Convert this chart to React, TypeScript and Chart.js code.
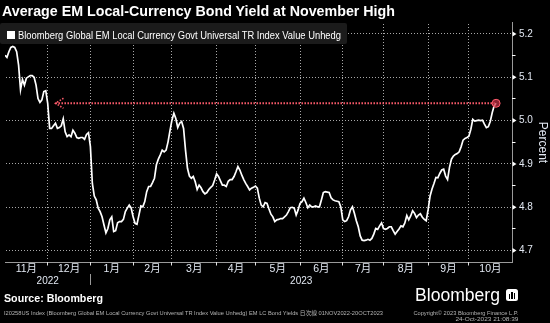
import React, { useEffect, useLayoutEffect, useRef } from "react";
import { Chart, registerables } from "chart.js";

Chart.register(...registerables);

// ---------- DATA ----------
const titleText = "Average EM Local-Currency Bond Yield at November High";
const seriesLabel = "Bloomberg Global EM Local Currency Govt Universal TR Index Value Unhedg";
const sourceText = "Source:  Bloomberg";
const footLeft =
  "I20258US Index (Bloomberg Global EM Local Currency Govt Universal TR Index Value Unhedg) EM LC Bond Yields  日次線 01NOV2022-20OCT2023";
const footRight1 = "Copyright© 2023 Bloomberg Finance L.P.";
const footRight2 = "24-Oct-2023 21:08:39";

// business-day index (0 = 1 Nov 2022) where each month starts
const monthStartDays = [0, 22, 44, 66, 86, 109, 129, 152, 174, 195, 218, 239];
const monthLabels = ["11月", "12月", "1月", "2月", "3月", "4月", "5月", "6月", "7月", "8月", "9月", "10月"];
const yearStartDays = [0, 44];
const yearLabels = ["2022", "2023"];
const xMin = 0;
const xMax = 261.2;

const yTicks = [4.7, 4.8, 4.9, 5.0, 5.1, 5.2];
const yMinorTicks = [4.75, 4.85, 4.95, 5.05, 5.15];
const yMin = 4.673;
const yMax = 5.226;

// daily yield (percent), one value per business day from 1 Nov 2022
const yieldPct = [
  5.151, 5.146, 5.159, 5.169, 5.171, 5.169, 5.159, 5.128, 5.071, 5.095,
  5.082, 5.098, 5.101, 5.104, 5.104, 5.100, 5.082, 5.051, 5.042, 5.048,
  5.067, 5.069, 5.040, 4.982, 4.982, 4.988, 4.994, 4.982, 4.984, 4.988,
  5.004, 4.974, 4.963, 4.967, 4.963, 4.978, 4.971, 4.961, 4.959, 4.961,
  4.961, 4.957, 4.968, 4.972, 4.940, 4.855, 4.826, 4.817, 4.798, 4.790,
  4.778, 4.759, 4.741, 4.751, 4.771, 4.778, 4.744, 4.746, 4.764, 4.767,
  4.767, 4.772, 4.790, 4.798, 4.805, 4.798, 4.778, 4.763, 4.761, 4.782,
  4.803, 4.801, 4.813, 4.836, 4.848, 4.848, 4.857, 4.867, 4.898, 4.911,
  4.921, 4.932, 4.928, 4.932, 4.951, 4.977, 5.001, 5.017, 5.005, 4.984,
  4.994, 4.998, 4.982, 4.932, 4.890, 4.872, 4.867, 4.871, 4.859, 4.841,
  4.851, 4.845, 4.836, 4.831, 4.834, 4.841, 4.846, 4.850, 4.863, 4.877,
  4.871, 4.861, 4.851, 4.851, 4.848, 4.860, 4.864, 4.864, 4.871, 4.882,
  4.894, 4.886, 4.874, 4.864, 4.855, 4.848, 4.840, 4.844, 4.846, 4.849,
  4.844, 4.821, 4.805, 4.801, 4.811, 4.809, 4.796, 4.784, 4.778, 4.767,
  4.771, 4.772, 4.774, 4.774, 4.778, 4.782, 4.790, 4.799, 4.800, 4.798,
  4.782, 4.794, 4.809, 4.813, 4.821, 4.811, 4.799, 4.805, 4.801, 4.801,
  4.803, 4.801, 4.801, 4.817, 4.834, 4.836, 4.835, 4.834, 4.822, 4.817,
  4.815, 4.814, 4.813, 4.801, 4.771, 4.767, 4.769, 4.778, 4.794, 4.801,
  4.786, 4.769, 4.755, 4.734, 4.724, 4.723, 4.724, 4.726, 4.724, 4.728,
  4.738, 4.751, 4.749, 4.757, 4.764, 4.751, 4.749, 4.751, 4.755, 4.755,
  4.746, 4.738, 4.744, 4.750, 4.757, 4.755, 4.764, 4.781, 4.771, 4.780,
  4.792, 4.786, 4.776, 4.782, 4.785, 4.777, 4.772, 4.769, 4.795, 4.826,
  4.842, 4.855, 4.869, 4.868, 4.878, 4.886, 4.888, 4.872, 4.864, 4.892,
  4.911, 4.918, 4.922, 4.924, 4.928, 4.940, 4.955, 4.959, 4.961, 4.964,
  4.980, 5.003, 4.999, 5.000, 5.001, 5.000, 5.001, 4.992, 4.984, 4.986,
  4.998, 5.018, 5.034, 5.040,
];

// the "back to November level" marker starts at this business day
const markerStartDay = 26;

// ---------- STYLE ----------
const labelColor = "#e2e8f2";
const gridColor = "#a8a8a8";
const axisColor = "#9a9a9a";
const markerColor = "#ff5c6c";
const baseFont = '"Liberation Sans", Arial, "Noto Sans CJK JP", sans-serif';

// dotted grid drawn under the data, positioned by the chart's own scales
const gridPlugin = {
  id: "dottedGrid",
  beforeDatasetsDraw(chart: any) {
    const { ctx, chartArea } = chart;
    const x = chart.scales.x;
    const y = chart.scales.y;
    ctx.save();
    ctx.fillStyle = gridColor;
    const left = Math.ceil(chartArea.left);
    const right = Math.floor(chartArea.right);
    const top = Math.ceil(chartArea.top);
    const bottom = Math.floor(chartArea.bottom);
    yTicks.forEach((v) => {
      const py = Math.round(y.getPixelForValue(v) - 0.5);
      for (let px = left + 1; px < right - 1; px += 3) ctx.fillRect(px, py, 1, 1);
    });
    monthStartDays.slice(1).forEach((d) => {
      const px = Math.round(x.getPixelForValue(d) - 0.5);
      for (let py = top + 1; py < bottom - 1; py += 3) ctx.fillRect(px, py, 1, 1);
    });
    ctx.restore();
  },
};

const decorPlugin = {
  id: "decor",
  afterDraw(chart: any) {
    const { ctx, chartArea } = chart;
    const x = chart.scales.x;
    const y = chart.scales.y;
    ctx.save();

    // y-axis major markers (small triangles) and minor ticks
    ctx.fillStyle = "#ffffff";
    yTicks.forEach((v) => {
      const py = y.getPixelForValue(v);
      ctx.beginPath();
      ctx.moveTo(chartArea.right + 0.5, py - 2.5);
      ctx.lineTo(chartArea.right + 4.5, py);
      ctx.lineTo(chartArea.right + 0.5, py + 2.5);
      ctx.closePath();
      ctx.fill();
    });
    yMinorTicks.forEach((v) => {
      const py = Math.round(y.getPixelForValue(v) - 0.5);
      ctx.fillRect(Math.round(chartArea.right), py, 3.5, 1);
    });

    // x-axis tick marks at month boundaries
    ctx.fillStyle = "#e0e0e0";
    monthStartDays.slice(1).forEach((d) => {
      const px = Math.round(x.getPixelForValue(d) - 0.5);
      ctx.fillRect(px, Math.round(chartArea.bottom), 1, 3.5);
    });

    // month labels centred within each month
    ctx.fillStyle = labelColor;
    ctx.textAlign = "center";
    ctx.textBaseline = "middle";
    ctx.font = `10.5px ${baseFont}`;
    monthLabels.forEach((lab, i) => {
      const s = monthStartDays[i];
      const e = i + 1 < monthStartDays.length ? monthStartDays[i + 1] : x.max;
      const px = (x.getPixelForValue(s) + x.getPixelForValue(e)) / 2;
      ctx.fillText(lab, px, chartArea.bottom + 6.8);
    });

    // year labels
    ctx.font = `10px ${baseFont}`;
    yearLabels.forEach((lab, i) => {
      const s = yearStartDays[i];
      const e = i + 1 < yearStartDays.length ? yearStartDays[i + 1] : x.max;
      const px = (x.getPixelForValue(s) + x.getPixelForValue(e)) / 2;
      ctx.fillText(lab, px, chartArea.bottom + 19);
    });
    // year separators
    ctx.fillStyle = "#9a9a9a";
    yearStartDays.slice(1).forEach((d) => {
      const px = Math.round(x.getPixelForValue(d) - 0.5);
      ctx.fillRect(px, Math.round(chartArea.bottom + 12), 1, 11);
    });

    // arrow head of the marker line
    const meta = chart.getDatasetMeta(1);
    if (meta && meta.data && meta.data[0]) {
      const p = meta.data[0];
      ctx.strokeStyle = markerColor;
      ctx.lineWidth = 1.6;
      ctx.setLineDash([1.5, 1.5]);
      ctx.beginPath();
      ctx.moveTo(p.x + 8, p.y - 5);
      ctx.lineTo(p.x, p.y);
      ctx.lineTo(p.x + 8, p.y + 5);
      ctx.stroke();
      ctx.setLineDash([]);
    }
    ctx.restore();
  },
};

function FitText(props: {
  text: string;
  width: number;
  left?: number;
  right?: number;
  top: number;
  style?: React.CSSProperties;
}) {
  const ref = useRef<HTMLSpanElement>(null);
  useLayoutEffect(() => {
    const el = ref.current;
    if (!el) return;
    el.style.transform = "none";
    const w = el.getBoundingClientRect().width;
    if (w > 0) el.style.transform = `scaleX(${props.width / w})`;
  }, [props.text, props.width]);
  const pos: React.CSSProperties = { position: "absolute", top: props.top, whiteSpace: "nowrap" };
  if (props.right !== undefined) {
    pos.right = props.right;
    pos.transformOrigin = "right top";
  } else {
    pos.left = props.left ?? 0;
    pos.transformOrigin = "left top";
  }
  return (
    <span ref={ref} style={{ ...pos, ...props.style }}>
      {props.text}
    </span>
  );
}

export default function App() {
  const canvasRef = useRef<HTMLCanvasElement>(null);

  useEffect(() => {
    const canvas = canvasRef.current;
    if (!canvas) return;
    const last = yieldPct[yieldPct.length - 1];
    const lastDay = yieldPct.length - 1;
    const chart = new Chart(canvas, {
      type: "line",
      data: {
        datasets: [
          {
            label: seriesLabel,
            data: yieldPct.map((v, i) => ({ x: i, y: v })),
            borderColor: "#ffffff",
            borderWidth: 1.7,
            pointRadius: 0,
            tension: 0,
            order: 1,
          },
          {
            label: "marker",
            data: [
              { x: markerStartDay, y: last },
              { x: lastDay, y: last },
            ],
            borderColor: markerColor,
            borderWidth: 2,
            borderDash: [1.5, 1.5],
            pointRadius: (c: any) => (c.dataIndex === 1 ? 4 : 0),
            pointBackgroundColor: "rgba(200,50,70,0.7)",
            pointBorderColor: markerColor,
            pointBorderWidth: 1,
            tension: 0,
            order: 0,
          },
        ],
      } as any,
      options: {
        responsive: false,
        animation: false,
        layout: { padding: { top: 22.7, left: 0, right: 0, bottom: 0 } },
        plugins: {
          legend: { display: false },
          tooltip: { enabled: false },
          title: { display: false },
        },
        scales: {
          x: {
            type: "linear",
            position: "bottom",
            min: xMin,
            max: xMax,
            afterBuildTicks: (s: any) => {
              s.ticks = monthStartDays.slice(1).map((v) => ({ value: v }));
            },
            afterFit: (s: any) => {
              s.height = 60.7;
            },
            ticks: { display: false },
            grid: { display: false, drawTicks: false },
            border: { display: true, color: axisColor, width: 1 },
          },
          y: {
            type: "linear",
            position: "right",
            min: yMin,
            max: yMax,
            afterBuildTicks: (s: any) => {
              s.ticks = yTicks.map((v) => ({ value: v }));
            },
            afterFit: (s: any) => {
              s.width = 38;
            },
            ticks: {
              color: labelColor,
              padding: 7,
              font: { size: 10, family: baseFont },
              callback: (v: any) => Number(v).toFixed(1),
            },
            grid: { display: false, drawTicks: false },
            border: { display: true, color: axisColor, width: 1 },
            title: {
              display: true,
              text: "Percent",
              color: labelColor,
              font: { size: 12, family: baseFont },
              padding: 0,
            },
          },
        },
      } as any,
      plugins: [gridPlugin, decorPlugin],
    });
    return () => chart.destroy();
  }, []);

  return (
    <div
      style={{
        position: "fixed",
        left: 0,
        top: 0,
        width: 550,
        height: 323,
        background: "#000000",
        overflow: "hidden",
        fontFamily: baseFont,
      }}
    >
      <canvas
        ref={canvasRef}
        width={550}
        height={323}
        style={{ position: "absolute", left: 0, top: 0, width: 550, height: 323 }}
      />
      <FitText
        text={titleText}
        left={2}
        width={393}
        top={4}
        style={{ color: "#ffffff", fontWeight: 700, fontSize: 14, lineHeight: "14px" }}
      />
      <div
        style={{
          position: "absolute",
          left: 0,
          top: 23,
          width: 347,
          height: 21,
          background: "#1b1b1b",
          borderRadius: 2,
        }}
      />
      <div style={{ position: "absolute", left: 7, top: 31, width: 8, height: 8, background: "#ffffff" }} />
      <FitText
        text={seriesLabel}
        left={18.3}
        width={323}
        top={30.5}
        style={{ color: "#ffffff", fontSize: 10, lineHeight: "10px" }}
      />
      <FitText
        text={sourceText}
        left={4}
        width={99}
        top={293.4}
        style={{ color: "#ffffff", fontWeight: 700, fontSize: 10.5, lineHeight: "10.5px" }}
      />
      <FitText
        text="Bloomberg"
        left={415}
        width={85}
        top={287}
        style={{ color: "#ffffff", fontSize: 17.5, lineHeight: "17.5px" }}
      />
      <div
        style={{
          position: "absolute",
          left: 506,
          top: 289,
          width: 12,
          height: 12,
          background: "#ffffff",
          borderRadius: 2.5,
        }}
      >
        <div style={{ position: "absolute", left: 2.5, top: 5, width: 1.6, height: 5, background: "#000" }} />
        <div style={{ position: "absolute", left: 5.2, top: 2.5, width: 1.6, height: 7.5, background: "#000" }} />
        <div style={{ position: "absolute", left: 7.9, top: 4, width: 1.6, height: 6, background: "#000" }} />
      </div>
      <FitText
        text={footLeft}
        left={4}
        width={379}
        top={310}
        style={{ color: "#b4b4b4", fontSize: 6, lineHeight: "6px" }}
      />
      <FitText
        text={footRight1}
        right={32}
        width={105}
        top={310}
        style={{ color: "#b4b4b4", fontSize: 6, lineHeight: "6px" }}
      />
      <FitText
        text={footRight2}
        right={32}
        width={63}
        top={316}
        style={{ color: "#b4b4b4", fontSize: 6, lineHeight: "6px" }}
      />
    </div>
  );
}
